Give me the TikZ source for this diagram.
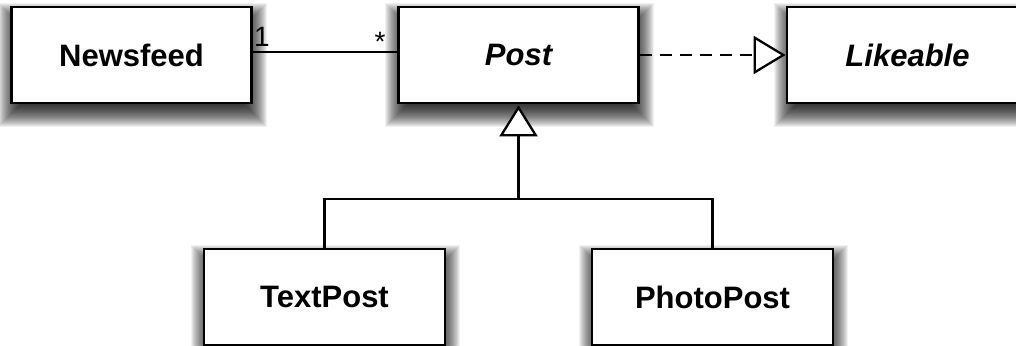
\documentclass[tikz,border=0pt]{standalone}
\usepackage{fontspec}
\setmainfont{Liberation Sans}
\usetikzlibrary{arrows.meta,backgrounds}
\tikzset{
  classbox/.style={draw=black, line width=2.7pt, fill=white, minimum width=240pt, minimum height=96pt, inner sep=0pt,
    font=\fontsize{31}{36}\selectfont\bfseries},
  abstractbox/.style={classbox, font=\fontsize{31}{36}\selectfont\bfseries\itshape},
  conn/.style={line width=2.3pt, draw=black},
  realize/.style={conn, dash pattern=on 12pt off 8pt, -{Triangle[open, length=32pt, width=38pt, fill=white, line width=2.3pt]}},
  inherit/.style={conn, -{Triangle[open, length=31pt, width=38pt, fill=white, line width=2.3pt]}},
  mult/.style={font=\fontsize{28}{32}\selectfont, inner sep=0pt},
  shadowlayer/.style={fill=black, fill opacity=0.06, draw=none}
}
\begin{document}
\begin{tikzpicture}[x=1pt, y=-1pt]
\useasboundingbox (0,0) rectangle (1016,345);
\clip (0,0) rectangle (1016,345);
\node[classbox] (newsfeed) at (131.5,55) {Newsfeed};
\node[abstractbox] (post) at (518.5,55) {Post};
\node[abstractbox, minimum width=241pt] (likeable) at (907.5,55) {Likeable};
\node[classbox, minimum width=241pt] (textpost) at (324.5,297) {TextPost};
\node[classbox, minimum width=241pt] (photopost) at (712.5,297) {PhotoPost};
\begin{scope}[on background layer]
  \fill[white] (0,0) rectangle (1016,345);
  \foreach \n in {newsfeed,post,likeable,textpost,photopost}{
    \foreach \e in {13,12,...,-12}{
      \fill[shadowlayer] ([shift={(-\e+1,-\e+10)}]\n.north west) rectangle ([shift={(\e+1,\e+10)}]\n.south east);
    }
  }
\end{scope}
\draw[conn] ([yshift=3pt]newsfeed.east) -- ([yshift=3pt]post.west);
\node[mult, anchor=base] (m1) at (262,47) {1};
\node[mult, anchor=base] (m2) at (380,52) {*};
\draw[realize] (post.east) -- (likeable.west);
\coordinate (bar) at (518.5,199);
\draw[conn] (textpost.north) |- (bar) -| (photopost.north);
\draw[inherit] (bar) -- ([yshift=-1pt]post.south);
\end{tikzpicture}
\end{document}
